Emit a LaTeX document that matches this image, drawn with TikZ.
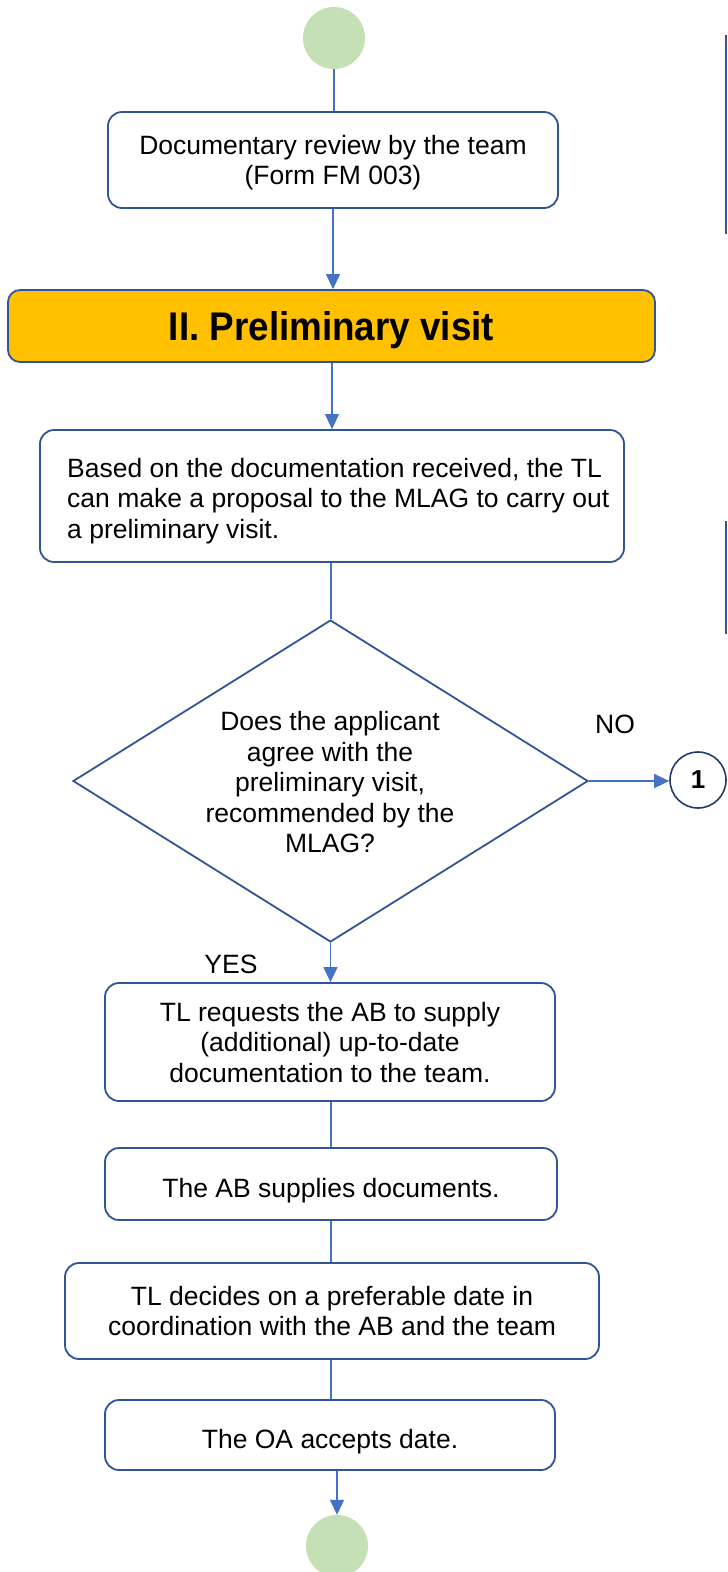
\documentclass[tikz,border=0pt]{standalone}
\usepackage{fontspec}
\setmainfont{Liberation Sans}
\usetikzlibrary{shapes.geometric,arrows.meta}
\definecolor{bdr}{RGB}{47,85,151}
\definecolor{conn}{RGB}{68,114,196}
\definecolor{term}{RGB}{197,224,180}
\definecolor{hdr}{RGB}{255,192,0}
\tikzset{
  box/.style={draw=bdr, line width=1.8pt, rounded corners=14pt, fill=white, align=center, font=\fontsize{26.5}{30.5}\selectfont, inner sep=0pt, text depth=-2.5pt, execute at begin node={\rule{0pt}{26pt}}},
  termc/.style={circle, fill=term, minimum size=62pt, inner sep=0pt},
  link/.style={draw=conn, line width=1.2pt},
  arr/.style={link, -{Triangle[length=15pt,width=14pt]}},
  lbl/.style={font=\fontsize{26.5}{30.5}\selectfont, inner sep=0pt}
}
\begin{document}
\begin{tikzpicture}[x=1pt,y=-1pt]
\useasboundingbox (0,0) rectangle (728,1572);
\node[termc] (start) at (334,38) {};
\node[box, minimum width=450pt, minimum height=96pt] (b1) at (333,160) {Documentary review by the team\\(Form FM 003)};
\node[box, fill=hdr, minimum width=647pt, minimum height=72pt, rounded corners=12pt, font=\bfseries\fontsize{40}{44}\selectfont, text depth=-2.5pt, execute at begin node={}] (hd) at (331.5,326) {\scalebox{0.92}[1]{II. Preliminary visit}};
\node[box, minimum width=584pt, minimum height=132pt, execute at begin node={}] (b2) at (332,496) {};
\node[lbl, align=left, anchor=west] (b2t) at (67,501) {Based on the documentation received, the TL\\can make a proposal to the MLAG to carry out\\a preliminary visit.};
\node[diamond, draw=bdr, line width=1.8pt, minimum width=515pt, minimum height=322pt, inner sep=0pt] (dec) at (330.5,781) {};
\node[lbl, align=center] (dect) at (330,782.5) {Does the applicant\\agree with the\\preliminary visit,\\recommended by the\\MLAG?};
\node[circle, draw=bdr!70!black, line width=1.6pt, minimum size=56pt, inner sep=0pt, font=\bfseries\fontsize{26}{30}\selectfont, text depth=-2pt] (c1) at (698,780) {1};
\node[lbl] (no) at (615,724) {NO};
\node[lbl] (yes) at (231,964) {YES};
\node[box, minimum width=450pt, minimum height=118pt] (b3) at (330,1042) {TL requests the AB to supply\\(additional) up-to-date\\documentation to the team.};
\node[box, minimum width=452pt, minimum height=72pt] (b4) at (331,1184) {The AB supplies documents.};
\node[box, minimum width=534pt, minimum height=96pt] (b5) at (332,1311) {TL decides on a preferable date in\\coordination with the AB and the team};
\node[box, minimum width=450pt, minimum height=70pt] (b6) at (330,1435) {The OA accepts date.};
\node[termc] (stop) at (337,1546) {};
\draw[link] (start.south) -- (start.south |- b1.north);
\draw[arr] (b1.south -| 333,0) -- (hd.north -| 333,0);
\draw[arr] (hd.south -| 332,0) -- (b2.north -| 332,0);
\draw[link] (b2.south -| 331,0) -- (dec.north -| 331,0);
\draw[arr] (dec.east) -- (c1.west |- dec.east);
\draw[arr] (dec.south) -- (b3.north -| dec.south);
\draw[link] (b3.south -| 331,0) -- (b4.north -| 331,0);
\draw[link] (b4.south -| 331,0) -- (b5.north -| 331,0);
\draw[link] (b5.south -| 331,0) -- (b6.north -| 331,0);
\draw[arr] (b6.south -| stop.north) -- (stop.north);
\coordinate (r1a) at (726,35);
\coordinate (r1b) at (726,234);
\coordinate (r2a) at (726,521);
\coordinate (r2b) at (726,634);
\draw[draw=bdr, line width=1.5pt] (r1a) -- (r1b);
\draw[draw=bdr, line width=1.5pt] (r2a) -- (r2b);
\end{tikzpicture}
\end{document}
